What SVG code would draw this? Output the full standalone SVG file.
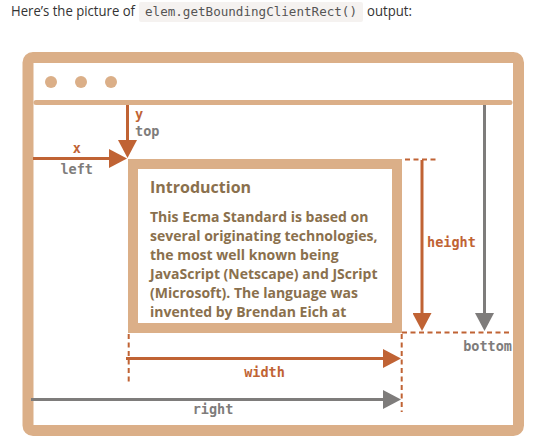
<svg xmlns="http://www.w3.org/2000/svg" width="546" height="440" viewBox="0 0 546 440">
<defs>
<style>
.hdr{font-family:"Open Sans","Noto Sans",sans-serif;font-size:14px;fill:#333}
.code{font-family:"DejaVu Sans Mono","Liberation Mono",monospace;font-size:12.6px;fill:#555}
.frame{fill:none;stroke:#DBAF88}
.dot{fill:#DBAF88}
.lbl{font-family:"DejaVu Sans Mono","Liberation Mono",monospace;font-size:13.5px;font-weight:bold}
.or{fill:#C06334}
.gr{fill:#7E7C7B}
.title{font-family:"Open Sans","Noto Sans",sans-serif;font-size:16px;font-weight:bold;fill:#8A704D}
.body{font-family:"Open Sans","Noto Sans",sans-serif;font-size:14px;font-weight:bold;fill:#8A704D}
.ao{stroke:#C06334;stroke-width:3;fill:none}
.ag{stroke:#7E7C7B;stroke-width:3;fill:none}
.dash{stroke:#C06334;stroke-width:2;stroke-dasharray:5 3.5;fill:none}
</style>
<marker id="mo" viewBox="0 0 18 19" refX="0" refY="9.5" markerWidth="18" markerHeight="19" markerUnits="userSpaceOnUse" orient="auto">
<path d="M0,0 L18,9.5 L0,19 Z" fill="#C06334"/>
</marker>
<marker id="mg" viewBox="0 0 18 19" refX="0" refY="9.5" markerWidth="18" markerHeight="19" markerUnits="userSpaceOnUse" orient="auto">
<path d="M0,0 L18,9.5 L0,19 Z" fill="#7E7C7B"/>
</marker>
</defs>
<rect width="546" height="440" fill="#fff"/>
<g id="header">
<text class="hdr" x="11" y="16" textLength="124" lengthAdjust="spacingAndGlyphs">Here’s the picture of</text>
<rect x="139" y="2" width="224" height="20" rx="2" fill="#F5F2F0"/>
<text class="code" x="145" y="16" textLength="212" lengthAdjust="spacingAndGlyphs">elem.getBoundingClientRect()</text>
<text class="hdr" x="367" y="16" textLength="45" lengthAdjust="spacingAndGlyphs">output:</text>
</g>
<g id="window">
<rect class="frame" x="28" y="57.5" width="490.5" height="373" rx="5" stroke-width="11"/>
<line x1="36" y1="102.5" x2="510" y2="102.5" stroke="#DBAF88" stroke-width="5" stroke-linecap="round"/>
<circle class="dot" cx="51" cy="82" r="6"/>
<circle class="dot" cx="81" cy="82" r="6"/>
<circle class="dot" cx="111" cy="82" r="6"/>
</g>
<g id="element">
<rect x="133" y="164" width="264" height="164" fill="#fff" stroke="#DBAF88" stroke-width="10"/>
<text class="title" x="150" y="193">Introduction</text>
<text class="body" x="150" y="221.7">This Ecma Standard is based on</text>
<text class="body" x="150" y="240.8">several originating technologies,</text>
<text class="body" x="150" y="259.9">the most well known being</text>
<text class="body" x="150" y="279">JavaScript (Netscape) and JScript</text>
<text class="body" x="150" y="298.1">(Microsoft). The language was</text>
<text class="body" x="150" y="317.2">invented by Brendan Eich at</text>
</g>
<g id="connectors">
<line class="dash" x1="405" y1="159.5" x2="438" y2="159.5"/>
<line class="dash" x1="402" y1="332.5" x2="509" y2="332.5"/>
<line class="dash" x1="401.7" y1="334" x2="401.7" y2="412"/>
<line class="dash" x1="128.7" y1="334" x2="128.7" y2="384"/>
<line class="ao" x1="127.5" y1="105" x2="127.5" y2="140" marker-end="url(#mo)"/>
<line class="ao" x1="33" y1="158.5" x2="109" y2="158.5" marker-end="url(#mo)"/>
<line class="ao" x1="422" y1="160" x2="422" y2="313" marker-end="url(#mo)"/>
<line class="ag" x1="484.5" y1="105" x2="484.5" y2="313" marker-end="url(#mg)"/>
<line class="ao" x1="126" y1="358.5" x2="383" y2="358.5" marker-end="url(#mo)"/>
<line class="ag" x1="31" y1="399.5" x2="383" y2="399.5" marker-end="url(#mg)"/>
</g>
<g id="labels">
<text class="lbl or" x="135" y="119">y</text>
<text class="lbl gr" x="135" y="135.5">top</text>
<text class="lbl or" x="76.7" y="152.5" text-anchor="middle">x</text>
<text class="lbl gr" x="76.7" y="174" text-anchor="middle">left</text>
<text class="lbl or" x="427" y="247">height</text>
<text class="lbl gr" x="512" y="350.5" text-anchor="end">bottom</text>
<text class="lbl or" x="264.5" y="377" text-anchor="middle">width</text>
<text class="lbl gr" x="213" y="413.5" text-anchor="middle">right</text>
</g>
</svg>
